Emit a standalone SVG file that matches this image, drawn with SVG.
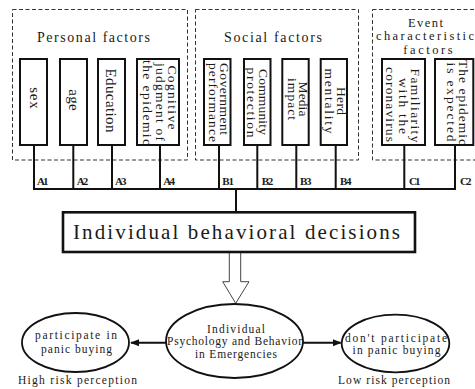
<svg xmlns="http://www.w3.org/2000/svg" width="475" height="389" viewBox="0 0 475 389">
  <style>
    .bg { fill: #ffffff; }
    .group { fill: none; stroke: #333; stroke-width: 1; stroke-dasharray: 4 2.5; }
    .factor { fill: #ffffff; stroke: #111; stroke-width: 2; }
    .main { fill: #ffffff; stroke: #111; stroke-width: 2.6; }
    .oval { fill: #ffffff; stroke: #111; stroke-width: 1.8; }
    .wire { fill: none; stroke: #111; stroke-width: 2; }
    .hollow { fill: #ffffff; stroke: #444; stroke-width: 1; }
    text { font-family: "Liberation Serif", "Times New Roman", serif; fill: #1a1a1a; }
    .t15 { font-size: 15px; }
    .t14 { font-size: 14px; }
    .t13 { font-size: 13.5px; }
    .t12 { font-size: 12.5px; }
    .t11 { font-size: 11.5px; }
    .lbl { font-size: 11px; font-weight: bold; }
    .big { font-size: 21px; }
    .mid { text-anchor: middle; }
  </style>
  <defs>
    <marker id="head" viewBox="0 0 10 8" refX="9" refY="4" markerWidth="9" markerHeight="8" markerUnits="userSpaceOnUse" orient="auto">
      <path d="M0,0 L10,4 L0,8 Z" fill="#111"/>
    </marker>
  </defs>

  <rect class="bg" x="0" y="0" width="475" height="389"/>

  <!-- factor groups (dashed frames with titles) -->
  <g id="personal-factors">
    <rect class="group" x="12.5" y="9.5" width="175" height="150.5"/>
    <text class="t14 mid" x="93.5" y="41.5" textLength="113" lengthAdjust="spacing">Personal factors</text>
  </g>
  <g id="social-factors">
    <rect class="group" x="195.5" y="9.5" width="163" height="150.5"/>
    <text class="t14 mid" x="273" y="41.5" textLength="98" lengthAdjust="spacing">Social factors</text>
  </g>
  <g id="event-factors">
    <rect class="group" x="372.5" y="9.5" width="120" height="150.5"/>
    <text class="t12 mid" x="425.5" y="26.5" textLength="35" lengthAdjust="spacing">Event</text>
    <text class="t12" x="376" y="40" textLength="98" lengthAdjust="spacing">characteristic</text>
    <text class="t12 mid" x="428" y="53.5" textLength="49.4" lengthAdjust="spacing">factors</text>
  </g>

  <!-- individual factor boxes, vertical captions read top to bottom -->
  <g id="A1">
    <rect class="factor" x="20" y="59" width="27" height="86"/>
    <text class="t15 mid" transform="translate(29.5 98) rotate(90)" textLength="21.3" lengthAdjust="spacing">sex</text>
  </g>
  <g id="A2">
    <rect class="factor" x="60" y="59" width="27" height="86"/>
    <text class="t15 mid" transform="translate(69 100) rotate(90)" textLength="21.3" lengthAdjust="spacing">age</text>
  </g>
  <g id="A3">
    <rect class="factor" x="98" y="59" width="27" height="86"/>
    <text class="t15 mid" transform="translate(106 100.5) rotate(90)" textLength="64" lengthAdjust="spacing">Education</text>
  </g>
  <g id="A4">
    <rect class="factor" x="137" y="59" width="42" height="86"/>
    <text class="t13 mid" transform="translate(168 97.5) rotate(90)" textLength="64" lengthAdjust="spacing">Cognitive</text>
    <text class="t13 mid" transform="translate(155.5 102) rotate(90)" textLength="78" lengthAdjust="spacing">judgment of</text>
    <text class="t13 mid" transform="translate(142.5 102.5) rotate(90)" textLength="85" lengthAdjust="spacing">the epidemic</text>
  </g>
  <g id="B1">
    <rect class="factor" x="204" y="59" width="26.5" height="86"/>
    <text class="t13" transform="translate(219.5 63) rotate(90)" textLength="72" lengthAdjust="spacing">Government</text>
    <text class="t13" transform="translate(208.5 63) rotate(90)" textLength="79" lengthAdjust="spacing">performance</text>
  </g>
  <g id="B2">
    <rect class="factor" x="244" y="59" width="26.5" height="86"/>
    <text class="t13 mid" transform="translate(258.5 102) rotate(90)" textLength="66" lengthAdjust="spacing">Community</text>
    <text class="t13 mid" transform="translate(247 102.5) rotate(90)" textLength="70" lengthAdjust="spacing">protection</text>
  </g>
  <g id="B3">
    <rect class="factor" x="282.3" y="59" width="26.4" height="86"/>
    <text class="t13 mid" transform="translate(298.5 99) rotate(90)" textLength="35" lengthAdjust="spacing">Media</text>
    <text class="t13 mid" transform="translate(287.5 99) rotate(90)" textLength="42" lengthAdjust="spacing">impact</text>
  </g>
  <g id="B4">
    <rect class="factor" x="320.7" y="59" width="26.3" height="86"/>
    <text class="t13 mid" transform="translate(336.5 101) rotate(90)" textLength="28" lengthAdjust="spacing">Herd</text>
    <text class="t13 mid" transform="translate(324.5 101) rotate(90)" textLength="65" lengthAdjust="spacing">mentality</text>
  </g>
  <g id="C1">
    <rect class="factor" x="382" y="59" width="43" height="86"/>
    <text class="t13 mid" transform="translate(411 105.5) rotate(90)" textLength="74" lengthAdjust="spacing">Familiarity</text>
    <text class="t13 mid" transform="translate(398.5 106) rotate(90)" textLength="56" lengthAdjust="spacing">with the</text>
    <text class="t13 mid" transform="translate(386 104.5) rotate(90)" textLength="75" lengthAdjust="spacing">coronavirus</text>
  </g>
  <g id="C2">
    <rect class="factor" x="435" y="59" width="38.3" height="86"/>
    <text class="t13 mid" transform="translate(458.5 102.5) rotate(90)" textLength="85" lengthAdjust="spacing">The epidemic</text>
    <text class="t13 mid" transform="translate(447 102) rotate(90)" textLength="79" lengthAdjust="spacing">is expected</text>
  </g>

  <!-- connectors: factor stems, collecting bus, link into the decision box -->
  <g id="connectors">
    <path class="wire" d="M34,145 V189 M73.3,145 V189 M112,145 V189 M160,145 V189 M219,145 V189 M257.3,145 V189 M296.3,145 V189 M335.7,145 V189 M404.3,145 V189 M455,145 V189"/>
    <path class="wire" d="M33,189 H456"/>
    <path class="wire" d="M236,189 V211"/>
    <polygon class="hollow" points="229.3,252.5 240.7,252.5 240.7,281.7 249,281.7 235.7,303.3 222.7,281.7 229.3,281.7"/>
    <line class="wire" x1="166" y1="342.7" x2="131" y2="342.7" marker-end="url(#head)"/>
    <line class="wire" x1="303" y1="342.7" x2="340.7" y2="342.7" marker-end="url(#head)"/>
    <text class="lbl" x="37" y="184.5" textLength="11.6" lengthAdjust="spacing">A1</text>
    <text class="lbl" x="76.7" y="184.5" textLength="11.6" lengthAdjust="spacing">A2</text>
    <text class="lbl" x="115" y="184.5" textLength="11.6" lengthAdjust="spacing">A3</text>
    <text class="lbl" x="163.3" y="184.5" textLength="11.6" lengthAdjust="spacing">A4</text>
    <text class="lbl" x="222.3" y="184.5" textLength="11.6" lengthAdjust="spacing">B1</text>
    <text class="lbl" x="261.7" y="184.5" textLength="11.6" lengthAdjust="spacing">B2</text>
    <text class="lbl" x="300" y="184.5" textLength="11.6" lengthAdjust="spacing">B3</text>
    <text class="lbl" x="340" y="184.5" textLength="11.6" lengthAdjust="spacing">B4</text>
    <text class="lbl" x="409" y="184.5" textLength="11.6" lengthAdjust="spacing">C1</text>
    <text class="lbl" x="460" y="184.5" textLength="11.6" lengthAdjust="spacing">C2</text>
  </g>

  <!-- decision box -->
  <g id="decisions">
    <rect class="main" x="63" y="212.3" width="352" height="39.7"/>
    <text class="big" x="73" y="239.3" textLength="327" lengthAdjust="spacing">Individual behavioral decisions</text>
  </g>

  <!-- psychology and the two outcomes -->
  <g id="psychology">
    <ellipse class="oval" cx="234.5" cy="341" rx="68.5" ry="37"/>
    <text class="t11 mid" x="236" y="332.5" textLength="58" lengthAdjust="spacing">Individual</text>
    <text class="t11 mid" x="234.5" y="345" textLength="135" lengthAdjust="spacing">Psychology and Behavior</text>
    <text class="t11 mid" x="236" y="357.7" textLength="82" lengthAdjust="spacing">in Emergencies</text>
  </g>
  <g id="panic-buying">
    <ellipse class="oval" cx="75.5" cy="342.5" rx="53.5" ry="29.5"/>
    <text class="t11 mid" x="76" y="339" textLength="82" lengthAdjust="spacing">participate in</text>
    <text class="t11 mid" x="76.5" y="352.7" textLength="71" lengthAdjust="spacing">panic buying</text>
    <text class="t11 mid" x="77.5" y="384" textLength="119" lengthAdjust="spacing">High risk perception</text>
  </g>
  <g id="no-panic-buying">
    <ellipse class="oval" cx="395.5" cy="343.5" rx="53.8" ry="28.8"/>
    <text class="t11 mid" x="396" y="341.7" textLength="102" lengthAdjust="spacing">don't participate</text>
    <text class="t11 mid" x="396.5" y="354" textLength="88" lengthAdjust="spacing">in panic buying</text>
    <text class="t11 mid" x="394" y="384" textLength="112" lengthAdjust="spacing">Low risk perception</text>
  </g>
</svg>
